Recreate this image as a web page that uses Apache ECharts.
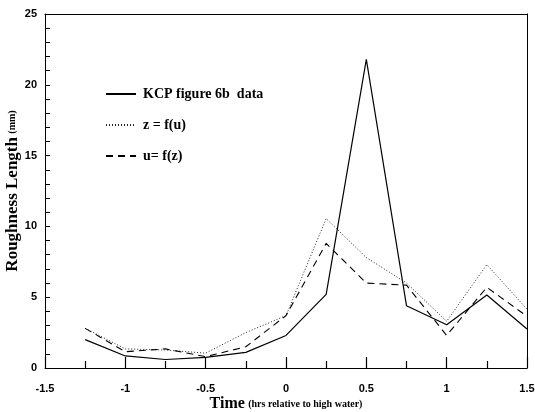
<!DOCTYPE html>
<html>
<head>
<meta charset="utf-8">
<script src="https://cdn.jsdelivr.net/npm/echarts@6/dist/echarts.min.js"></script>
<style>
  html, body { margin: 0; padding: 0; background: #fff; }
  #chart { width: 535px; height: 412px; }
</style>
</head>
<body>
<div id="chart"></div>
<script>
// time in hours relative to high water
const times = [-1.25, -1, -0.75, -0.5, -0.25, 0, 0.25, 0.5, 0.75, 1, 1.25, 1.5];
const kcpData = [2.0, 0.85, 0.6, 0.75, 1.1, 2.3, 5.2, 21.8, 4.4, 3.05, 5.15, 2.75];
const zOfU = [2.8, 1.35, 1.27, 1.05, 2.5, 3.7, 10.55, 7.8, 6.0, 3.3, 7.3, 4.15];
const uOfZ = [2.8, 1.15, 1.35, 0.8, 1.5, 3.7, 8.8, 6.0, 5.85, 2.3, 5.7, 3.65];
const xTicks = [-1.5, -1, -0.5, 0, 0.5, 1, 1.5];
const yTicks = [0, 5, 10, 15, 20, 25];

function pairs(ys) {
    return times.map(function (t, i) { return [t, ys[i]]; });
}

var myChart = echarts.init(document.getElementById('chart'));

var tickFont = { fontFamily: 'Liberation Sans', fontWeight: 'bold', fontSize: 11, color: '#000' };

// plain axes used only to close the frame on top and right
var frameX = {
    type: 'value', position: 'top', min: -1.5, max: 1.5, interval: 0.5,
    axisLine: { show: true, onZero: false, lineStyle: { color: '#000', width: 1 } },
    axisTick: { show: false }, axisLabel: { show: false }, splitLine: { show: false }
};
var frameY = {
    type: 'value', position: 'right', min: 0, max: 25, interval: 5,
    axisLine: { show: true, onZero: false, lineStyle: { color: '#000', width: 1 } },
    axisTick: { show: false }, axisLabel: { show: false }, splitLine: { show: false }
};

myChart.setOption({
    animation: false,
    backgroundColor: '#fff',
    grid: {
        left: 45, right: 8, top: 14, bottom: 44,
        outerBoundsMode: 'none',
        containLabel: false,
        show: false
    },
    legend: {
        orient: 'vertical',
        left: 100,
        top: 82,
        itemWidth: 30,
        itemHeight: 14,
        itemGap: 17,
        itemStyle: { opacity: 0 },
        textStyle: { fontFamily: 'Liberation Serif', fontWeight: 'bold', fontSize: 14, color: '#000', padding: [0, 0, 0, 2] },
        data: ['KCP figure 6b  data', 'z = f(u)', 'u= f(z)']
    },
    xAxis: [{
        type: 'value',
        position: 'bottom',
        min: -1.5, max: 1.5, interval: 0.5,
        z: 5,
        axisLine: { show: true, onZero: false, lineStyle: { color: '#000', width: 1 } },
        axisTick: { show: true, inside: true, length: 11, lineStyle: { color: '#000', width: 1.2 } },
        minorTick: { show: true, splitNumber: 2, length: 7, lineStyle: { color: '#000', width: 1.2 } },
        splitLine: { show: false },
        minorSplitLine: { show: false },
        axisLabel: Object.assign({ margin: 15, formatter: function (v) {
            return xTicks.indexOf(v) >= 0 ? String(v) : '';
        } }, tickFont),
        name: '{big|Time} {small|(hrs relative to high water)}',
        nameLocation: 'middle',
        nameMoveOverlap: false,
        nameGap: 28,
        nameTextStyle: {
            rich: {
                big: { fontFamily: 'Liberation Serif', fontWeight: 'bold', fontSize: 16, color: '#000' },
                small: { fontFamily: 'Liberation Serif', fontWeight: 'bold', fontSize: 10, color: '#000' }
            }
        }
    }, frameX],
    yAxis: [{
        type: 'value',
        position: 'left',
        min: 0, max: 25, interval: 5,
        z: 5,
        axisLine: { show: true, onZero: false, lineStyle: { color: '#000', width: 1 } },
        axisTick: { show: true, inside: true, length: 5, lineStyle: { color: '#000' } },
        minorTick: { show: true, splitNumber: 5, length: 5, lineStyle: { color: '#000' } },
        splitLine: { show: false },
        minorSplitLine: { show: false },
        axisLabel: Object.assign({ margin: 8, formatter: function (v) {
            return yTicks.indexOf(v) >= 0 ? String(v) : '';
        } }, tickFont),
        name: '{big|Roughness Length} {small|(mm)}',
        nameLocation: 'middle',
        nameMoveOverlap: false,
        nameGap: 24,
        nameTextStyle: {
            rich: {
                big: { fontFamily: 'Liberation Serif', fontWeight: 'bold', fontSize: 17, color: '#000' },
                small: { fontFamily: 'Liberation Serif', fontWeight: 'bold', fontSize: 10, color: '#000' }
            }
        }
    }, frameY],
    series: [
        {
            name: 'KCP figure 6b  data',
            type: 'line',
            symbol: 'none',
            data: pairs(kcpData),
            lineStyle: { color: '#000', width: 1.2, type: 'solid' },
            itemStyle: { color: '#000' }
        },
        {
            name: 'z = f(u)',
            type: 'line',
            symbol: 'none',
            data: pairs(zOfU),
            lineStyle: { color: '#222', width: 1, type: [1, 2] },
            itemStyle: { color: '#222' }
        },
        {
            name: 'u= f(z)',
            type: 'line',
            symbol: 'none',
            data: pairs(uOfZ),
            lineStyle: { color: '#000', width: 1.1, type: [7, 5] },
            itemStyle: { color: '#000' }
        }
    ]
});
</script>
</body>
</html>
